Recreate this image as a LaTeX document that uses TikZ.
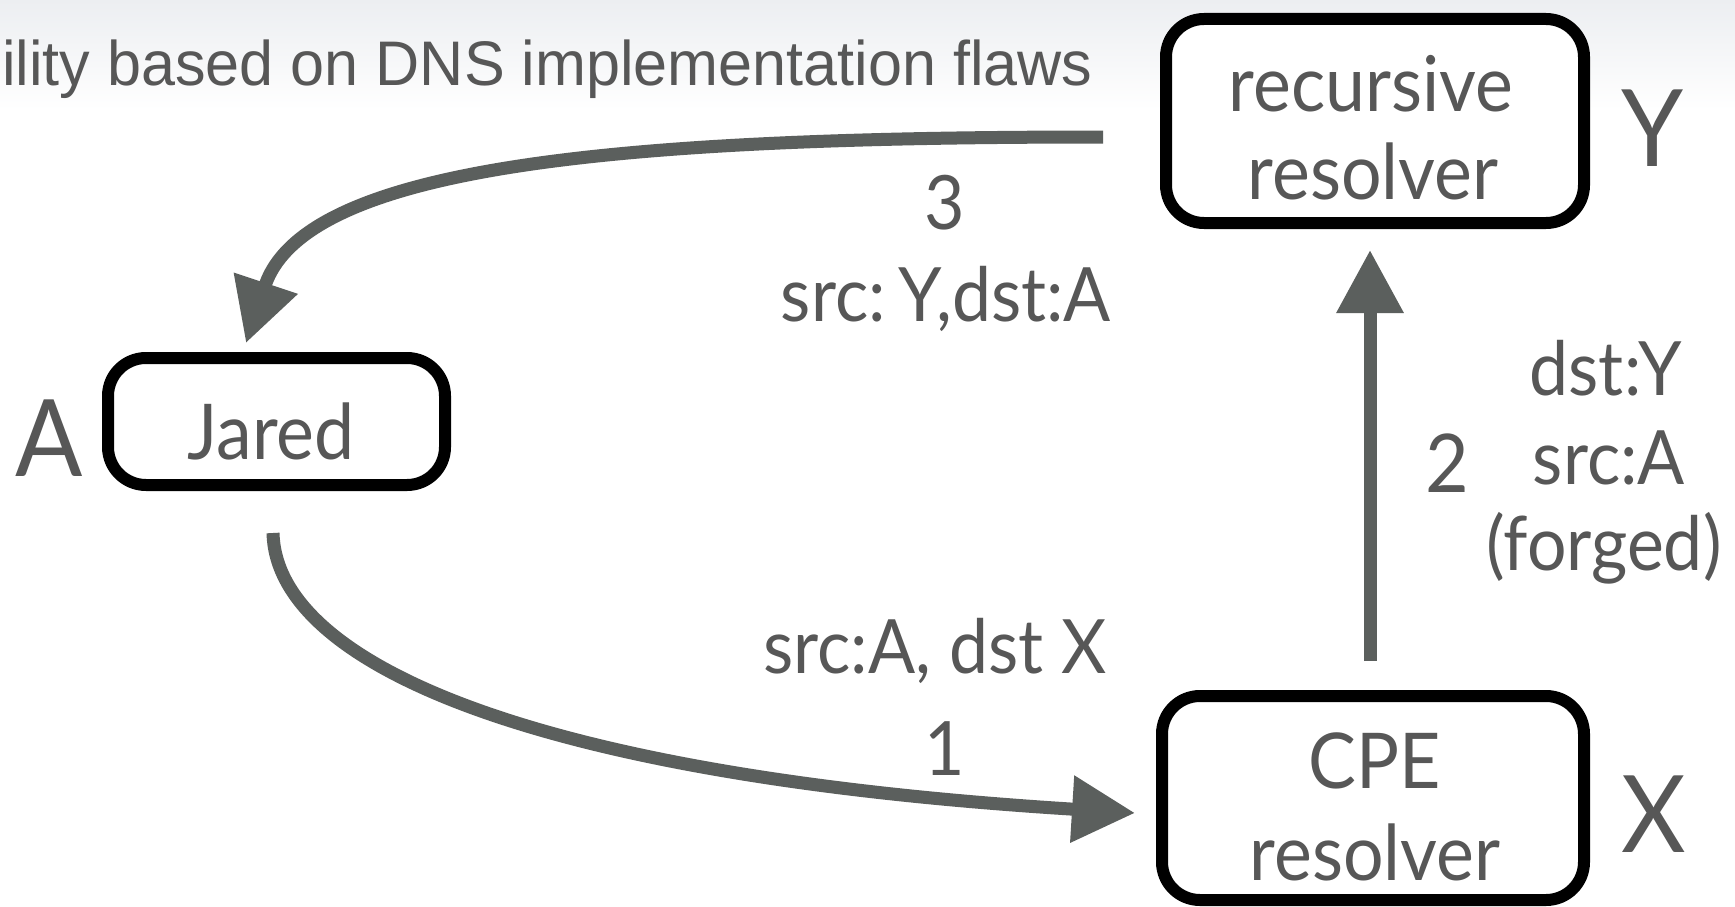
\documentclass[tikz,border=0pt]{standalone}
\usepackage{fontspec}
\setmainfont{Lato}[FakeStretch=0.93]
\newfontfamily\slidefont{Liberation Sans}[FakeStretch=0.97]
\usetikzlibrary{arrows.meta}
\definecolor{ink}{HTML}{575757}
\definecolor{flow}{HTML}{5B5F5D}
\definecolor{haze}{HTML}{ECEEF1}

\begin{document}
\begin{tikzpicture}[x=1pt,y=-1pt,
  hostbox/.style={draw=black, line width=12pt, rounded corners=38pt, inner sep=0pt, fill=white},
  boxtext/.style={anchor=base, inner sep=0pt, text=ink, font=\fontsize{77}{89}\selectfont},
  tag/.style={anchor=base, inner sep=0pt, text=ink, font=\fontsize{107}{120}\selectfont},
  msg/.style={anchor=base, inner sep=0pt, text=ink, font=\fontsize{75}{88}\selectfont},
  flowarrow/.style={draw=flow, line width=13pt, line cap=butt, -{Triangle[length=63pt,width=64pt]}}
]
\useasboundingbox (0,0) rectangle (1735,907);
\fill[white] (0,0) rectangle (1735,907);
\shade[top color=haze, bottom color=white] (0,0) rectangle (1735,110);

% slide heading (cut at the left edge)
\node[anchor=base west, inner sep=0pt, text=ink, font=\slidefont\fontsize{63}{70}\selectfont]
  (heading) at (2,85) {ility based on DNS implementation flaws};

% hosts
\node[hostbox, minimum width=418pt, minimum height=204pt] (rec) at (1375,121) {};
\node[boxtext] (recA) at (1371,111) {recursive};
\node[boxtext] (recB) at (1373,199) {resolver};
\node[tag] (tagY) at (1653,166) {Y};

\node[hostbox, minimum width=422pt, minimum height=204pt] (cpe) at (1373,798) {};
\node[boxtext] (cpeA) at (1375,788) {CPE};
\node[boxtext] (cpeB) at (1375,880) {resolver};
\node[tag] (tagX) at (1654,852) {X};

\node[hostbox, minimum width=337pt, minimum height=127pt] (jared) at (276.5,421.5) {};
\node[boxtext] (jaredT) at (271,459) {Jared};
\node[tag] (tagA) at (49,476) {A};

% arrow end points
\coordinate (s1) at (273,533);
\coordinate (e1) at (1135,813);
\coordinate (s2) at (1370,661);
\coordinate (e2) at (1370,250);
\coordinate (s3) at (1103,137);
\coordinate (e3) at (246,343);

% step 1: Jared -> CPE resolver
\draw[flowarrow] (s1) .. controls (276,660) and (520,775) .. (e1);
\node[msg] (m1a) at (935,673) {src:A, dst X};
\node[msg] (m1b) at (945,775) {1};

% step 2: CPE resolver -> recursive resolver
\draw[flowarrow] (s2) -- (e2);
\node[msg, font=\fontsize{81}{90}\selectfont] (m2n) at (1447,492) {2};
\node[msg] (m2a) at (1606,395) {dst:Y};
\node[msg] (m2b) at (1609,484) {src:A};
\node[msg] (m2c) at (1604,570) {(forged)};

% step 3: recursive resolver -> Jared
\draw[flowarrow] (s3) .. controls (620,137) and (305,165) .. (e3);
\node[msg] (m3n) at (945,229) {3};
\node[msg] (m3a) at (946,321) {src:\,Y,dst:A};
\end{tikzpicture}
\end{document}
